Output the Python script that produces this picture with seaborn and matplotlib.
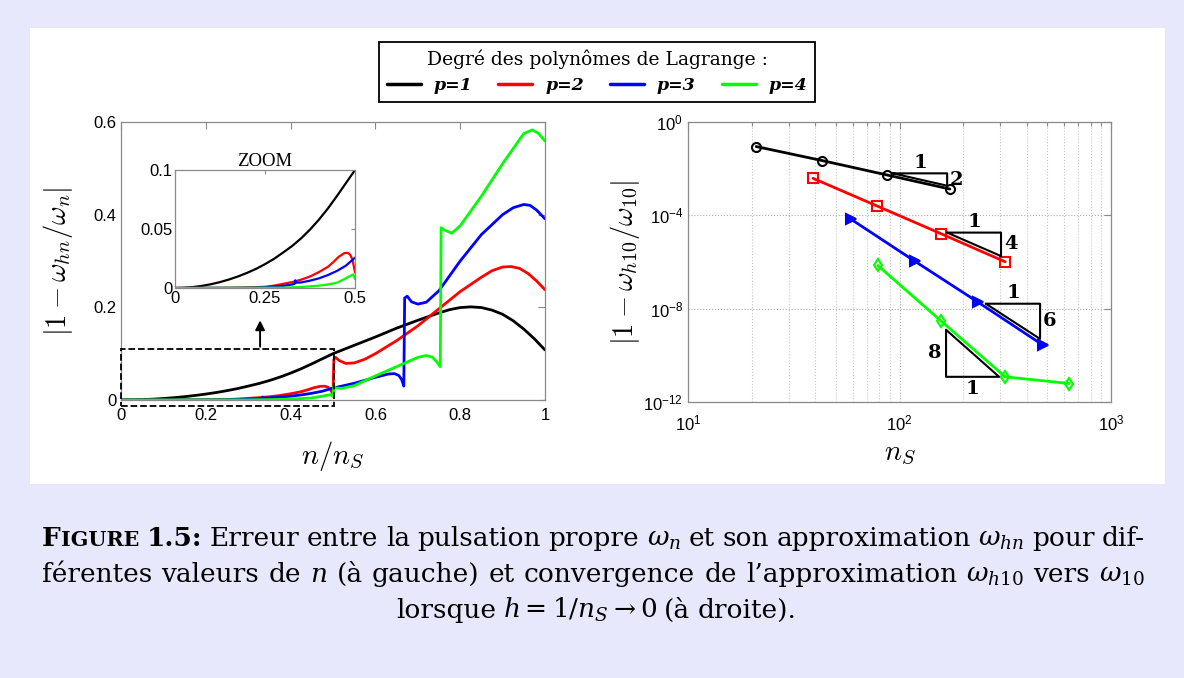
import numpy as np
import pandas as pd
import matplotlib
matplotlib.use("Agg")
import matplotlib.pyplot as plt
import seaborn as sns
from matplotlib.lines import Line2D
from matplotlib.patches import Rectangle
from matplotlib.ticker import FixedLocator, LogLocator, NullLocator, NullFormatter

# ---------------- data: left panel (error vs n/nS) ----------------
x_p1 = [0, 0.025, 0.05, 0.075, 0.1, 0.125, 0.15, 0.175, 0.2, 0.225, 0.25, 0.275, 0.3,
        0.325, 0.35, 0.375, 0.4, 0.425, 0.45, 0.475, 0.5, 0.55, 0.6, 0.65, 0.7, 0.75,
        0.775, 0.8, 0.825, 0.85, 0.875, 0.9, 0.925, 0.95, 0.975, 1.0]
y_p1 = [0, 0.0002, 0.0008, 0.0018, 0.0032, 0.0050, 0.0072, 0.0098, 0.0128, 0.0162,
        0.0202, 0.0247, 0.030, 0.0355, 0.042, 0.0495, 0.058, 0.0675, 0.078, 0.089, 0.100,
        0.118, 0.136, 0.155, 0.172, 0.188, 0.195, 0.1995, 0.201, 0.1995, 0.194, 0.185,
        0.171, 0.153, 0.132, 0.108]

x_p2 = [0, 0.1, 0.15, 0.2, 0.25, 0.275, 0.3, 0.325, 0.35, 0.375, 0.4, 0.425, 0.44, 0.455,
        0.47, 0.48, 0.487, 0.493, 0.497, 0.5, 0.502, 0.506, 0.515, 0.53, 0.55, 0.575,
        0.6, 0.65, 0.7, 0.75, 0.8, 0.85, 0.875, 0.9, 0.92, 0.94, 0.96, 0.98, 1.0]
y_p2 = [0, 0.0001, 0.0002, 0.0005, 0.001, 0.002, 0.0035, 0.005, 0.007, 0.0098, 0.0135,
        0.018, 0.022, 0.0265, 0.0295, 0.0298, 0.028, 0.024, 0.018, 0.013, 0.088, 0.092,
        0.085, 0.079, 0.080, 0.088, 0.100, 0.128, 0.160, 0.197, 0.234, 0.265, 0.279,
        0.287, 0.288, 0.284, 0.273, 0.257, 0.238]

x_p3 = [0, 0.2, 0.25, 0.3, 0.325, 0.332, 0.334, 0.337, 0.35, 0.375, 0.4, 0.425, 0.45,
        0.475, 0.5, 0.55, 0.6, 0.63, 0.645, 0.655, 0.662, 0.667, 0.669, 0.675, 0.685,
        0.7, 0.72, 0.75, 0.8, 0.85, 0.9, 0.925, 0.95, 0.965, 0.98, 1.0]
y_p3 = [0, 0.0002, 0.0006, 0.0018, 0.003, 0.0035, 0.0065, 0.0045, 0.0047, 0.0062,
        0.0082, 0.011, 0.0145, 0.019, 0.0257, 0.036, 0.049, 0.056, 0.057, 0.053, 0.044,
        0.030, 0.220, 0.224, 0.212, 0.207, 0.211, 0.236, 0.300, 0.357, 0.400, 0.415,
        0.422, 0.420, 0.410, 0.391]

x_p4 = [0, 0.3, 0.35, 0.4, 0.425, 0.45, 0.47, 0.485, 0.495, 0.5, 0.502, 0.506, 0.52,
        0.55, 0.6, 0.65, 0.7, 0.72, 0.735, 0.745, 0.753, 0.755, 0.76, 0.78, 0.8, 0.85,
        0.9, 0.95, 0.97, 0.985, 1.0]
y_p4 = [0, 0.0003, 0.0008, 0.002, 0.003, 0.0045, 0.0075, 0.010, 0.0115, 0.0077, 0.030,
        0.026, 0.025, 0.031, 0.052, 0.072, 0.092, 0.096, 0.092, 0.082, 0.072, 0.372,
        0.368, 0.360, 0.376, 0.440, 0.510, 0.575, 0.583, 0.575, 0.559]

# ---------------- data: right panel (convergence) ----------------
nS_p1 = [21, 43, 87, 173]
err_p1 = [8.9e-2, 2.23e-2, 5.4e-3, 1.34e-3]
nS_p2 = [39, 78, 157, 316]
err_p2 = [3.86e-3, 2.56e-4, 1.64e-5, 1.02e-6]
nS_p3 = [59, 118, 236, 475]
err_p3 = [6.8e-5, 1.09e-6, 1.86e-8, 2.8e-10]
nS_p4 = [79, 157, 316, 635]
err_p4 = [7.1e-7, 3.0e-9, 1.2e-11, 6.2e-12]

# slope triangles: (x_left, x_right, y_top, y_bottom, horizontal label, vertical label)
tri_xl = [93, 168, 256, 166]
tri_xr = [168, 302, 462, 296]
tri_yt = [6.3e-3, 1.82e-5, 1.63e-8, 1.24e-9]
tri_yb = [1.86e-3, 1.79e-6, 5.06e-10, 1.2e-11]
tri_hlab = ["1", "1", "1", "1"]
tri_vlab = ["2", "4", "6", "8"]

series_labels = ["p=1", "p=2", "p=3", "p=4"]
colors = ["#000000", "#ff0000", "#0000ff", "#00ff00"]
markers = ["o", "s", ">", "d"]

left_xticks = [0, 0.2, 0.4, 0.6, 0.8, 1.0]
left_xticklabels = ["0", "0.2", "0.4", "0.6", "0.8", "1"]
left_yticks = [0, 0.2, 0.4, 0.6]
left_yticklabels = ["0", "0.2", "0.4", "0.6"]
inset_xticks = [0, 0.25, 0.5]
inset_xticklabels = ["0", "0.25", "0.5"]
inset_yticks = [0, 0.05, 0.1]
inset_yticklabels = ["0", "0.05", "0.1"]

legend_title = "Degré des polynômes de Lagrange :"

# ---------------- style ----------------
sns.set_theme(style="white")
plt.rcParams["font.family"] = ["Liberation Sans", "DejaVu Sans"]
plt.rcParams["mathtext.fontset"] = "cm"
plt.rcParams["text.color"] = "black"
plt.rcParams["axes.labelcolor"] = "black"

W, H = 1184, 678
fig = plt.figure(figsize=(W / 100, H / 100), dpi=100)
fig.set_facecolor("#e8e8fc")
fig.patches.append(Rectangle((30 / W, 1 - 484 / H), 1135 / W, 456 / H,
                             transform=fig.transFigure, facecolor="white",
                             edgecolor="none", zorder=-10))

frame_col = "#8a8a8a"


def style_axes(ax, labelsize=12):
    for s in ax.spines.values():
        s.set_color(frame_col)
        s.set_linewidth(0.9)
    ax.tick_params(which="both", direction="in", color=frame_col, top=True, right=True,
                   labelsize=labelsize, labelcolor="black", width=0.8)
    ax.tick_params(which="major", length=5)
    ax.tick_params(which="minor", length=3)
    ax.set_facecolor("white")


def fx(px):
    return px / W


def fy(py):
    return 1 - py / H


# ---------------- left panel ----------------
df_left = pd.concat([
    pd.DataFrame({"x": xs, "y": ys, "p": lab})
    for xs, ys, lab in zip([x_p1, x_p2, x_p3, x_p4], [y_p1, y_p2, y_p3, y_p4], series_labels)
], ignore_index=True)

axL = fig.add_axes([fx(121), fy(400), fx(545) - fx(121), fy(122) - fy(400)])
sns.lineplot(data=df_left, x="x", y="y", hue="p", palette=colors, sort=False,
             estimator=None, legend=False, lw=2.0, ax=axL)
axL.set_xlim(0, 1)
axL.set_ylim(0, 0.6)
axL.set_xticks(left_xticks, left_xticklabels)
axL.set_yticks(left_yticks, left_yticklabels)
style_axes(axL)
axL.tick_params(axis="x", pad=6)
axL.set_xlabel(r"$n/n_S$", fontsize=20.5)
axL.set_ylabel(r"$|1-\omega_{hn}/\omega_n|$", fontsize=20.5)
axL.xaxis.set_label_coords(0.5, -0.14)
axL.yaxis.set_label_coords(-0.108, 0.5)
axL.add_patch(Rectangle((0, -0.012), 0.503, 0.121, fill=False, ls="--", lw=1.3,
                        ec="black", clip_on=False, zorder=5))
axL.annotate("", xy=(0.328, 0.178), xytext=(0.328, 0.109),
             arrowprops=dict(arrowstyle="-|>", lw=1.4, color="black", mutation_scale=14))

# inset (only the part of the data inside its window)
df_zoom = df_left[df_left["x"] <= 0.5]
axI = fig.add_axes([fx(175), fy(288), fx(355) - fx(175), fy(170) - fy(288)])
sns.lineplot(data=df_zoom, x="x", y="y", hue="p", palette=colors, sort=False,
             estimator=None, legend=False, lw=1.6, ax=axI)
axI.set_xlim(0, 0.5)
axI.set_ylim(0, 0.1)
axI.set_xticks(inset_xticks, inset_xticklabels)
axI.set_yticks(inset_yticks, inset_yticklabels)
style_axes(axI)
axI.tick_params(length=3, pad=2)
axI.set_xlabel("")
axI.set_ylabel("")
axI.set_title("ZOOM", fontsize=13.5, family="Liberation Serif", pad=3)

# ---------------- right panel ----------------
axR = fig.add_axes([fx(688), fy(402), fx(1111) - fx(688), fy(122) - fy(402)])
for xs, ys, c, m in zip([nS_p1, nS_p2, nS_p3, nS_p4], [err_p1, err_p2, err_p3, err_p4],
                        colors, markers):
    filled = c if m == ">" else "none"
    sns.lineplot(x=xs, y=ys, color=c, marker=m, markersize=6.5, markerfacecolor=filled,
                 markeredgecolor=c, markeredgewidth=1.5, lw=2.0, sort=False,
                 estimator=None, ax=axR)
axR.set_xscale("log")
axR.set_yscale("log")
axR.set_xlim(10, 1000)
axR.set_ylim(1e-12, 1)
axR.yaxis.set_major_locator(FixedLocator([1e-12, 1e-8, 1e-4, 1]))
axR.yaxis.set_minor_locator(NullLocator())
axR.xaxis.set_major_locator(FixedLocator([10, 100, 1000]))
axR.xaxis.set_minor_locator(LogLocator(base=10, subs=np.arange(2, 10)))
axR.xaxis.set_minor_formatter(NullFormatter())
style_axes(axR)
axR.tick_params(axis="x", pad=8)
axR.grid(True, which="major", ls=":", color="#b0b0b0", lw=0.8)
axR.grid(True, which="minor", axis="x", ls=":", color="#c8c8c8", lw=0.8)
axR.set_xlabel(r"$n_S$", fontsize=20.5)
axR.set_ylabel(r"$|1-\omega_{h10}/\omega_{10}|$", fontsize=20.5)
axR.xaxis.set_label_coords(0.5, -0.14)
axR.yaxis.set_label_coords(-0.108, 0.5)

for i in range(4):
    xl, xr, yt, yb = tri_xl[i], tri_xr[i], tri_yt[i], tri_yb[i]
    xm = np.sqrt(xl * xr)
    ym = np.sqrt(yt * yb)
    lab_kw = dict(fontsize=14, fontweight="bold", family="DejaVu Serif",
                  textcoords="offset points", color="black")
    if i < 3:
        axR.plot([xl, xr, xr, xl], [yt, yt, yb, yt], color="black", lw=1.5, zorder=4)
        axR.annotate(tri_hlab[i], xy=(xm, yt), xytext=(0, 1), ha="center", va="bottom", **lab_kw)
        axR.annotate(tri_vlab[i], xy=(xr, ym), xytext=(2, 0), ha="left", va="center", **lab_kw)
    else:
        axR.plot([xl, xl, xr, xl], [yt, yb, yb, yt], color="black", lw=1.5, zorder=4)
        axR.annotate(tri_hlab[i], xy=(xm, yb), xytext=(0, -2), ha="center", va="top", **lab_kw)
        axR.annotate(tri_vlab[i], xy=(xl, ym), xytext=(-3, 0), ha="right", va="center", **lab_kw)

# ---------------- legend ----------------
handles = [Line2D([], [], color=c, lw=2.5) for c in colors]
leg = fig.legend(handles, series_labels, loc="upper center", ncol=4,
                 bbox_to_anchor=(fx(597), fy(42)), frameon=True, fancybox=False,
                 edgecolor="black", framealpha=1, title=legend_title,
                 prop=dict(family="DejaVu Serif", size=12.5, weight="bold", style="italic"),
                 handlelength=1.95, handletextpad=0.75, columnspacing=1.5,
                 borderpad=0.45, labelspacing=0.45, borderaxespad=0)
leg.get_title().set_fontfamily("DejaVu Serif")
leg.get_title().set_fontsize(13.5)
leg.get_title().set_color("black")
for t in leg.get_texts():
    t.set_color("black")
leg.get_frame().set_linewidth(1.3)

# ---------------- caption (justified) ----------------
renderer = fig.canvas.get_renderer()
CAP = 19
base = dict(fontfamily="DejaVu Serif", math_fontfamily="dejavuserif", color="black",
            va="baseline", ha="left")


def word(*parts):
    return list(parts)


def reg(s, size=CAP):
    return (s, dict(fontsize=size))


def bold(s, size=CAP):
    return (s, dict(fontsize=size, fontweight="bold"))


def place_line(words, ybase, x0=None, x1=None, center=None, gap=None):
    arts = []
    widths = []
    for w in words:
        parts = []
        wtot = 0
        for s, kw in w:
            t = fig.text(0, fy(ybase), s, **base, **kw)
            bw = t.get_window_extent(renderer).width
            parts.append((t, bw))
            wtot += bw
        arts.append(parts)
        widths.append(wtot)
    total = sum(widths)
    if gap is None:
        gap = (x1 - x0 - total) / (len(words) - 1)
    if center is not None:
        x0 = center - (total + gap * (len(words) - 1)) / 2
    x = x0
    for parts, wt in zip(arts, widths):
        xx = x
        for t, bw in parts:
            t.set_x(fx(xx))
            xx += bw
        x += wt + gap


line1 = [
    word(bold("F"), bold("IGURE", CAP * 0.78)),
    word(bold("1.5:")),
    word(reg("Erreur")), word(reg("entre")), word(reg("la")), word(reg("pulsation")),
    word(reg("propre")), word(reg(r"$\omega_n$")), word(reg("et")), word(reg("son")),
    word(reg("approximation")), word(reg(r"$\omega_{hn}$")), word(reg("pour")),
    word(reg("dif-")),
]
line2 = [
    word(reg("férentes")), word(reg("valeurs")), word(reg("de")), word(reg(r"$n$")),
    word(reg("(à")), word(reg("gauche)")), word(reg("et")), word(reg("convergence")),
    word(reg("de")), word(reg("l’approximation")), word(reg(r"$\omega_{h10}$")),
    word(reg("vers")), word(reg(r"$\omega_{10}$")),
]
line3 = [
    word(reg("lorsque")), word(reg(r"$h=1/n_S\rightarrow 0$")), word(reg("(à")),
    word(reg("droite).")),
]
place_line(line1, 546, 42, 1145)
place_line(line2, 582, 42, 1145)
place_line(line3, 618, center=596, gap=7)

fig.savefig("out.png", dpi=100, facecolor=fig.get_facecolor())
